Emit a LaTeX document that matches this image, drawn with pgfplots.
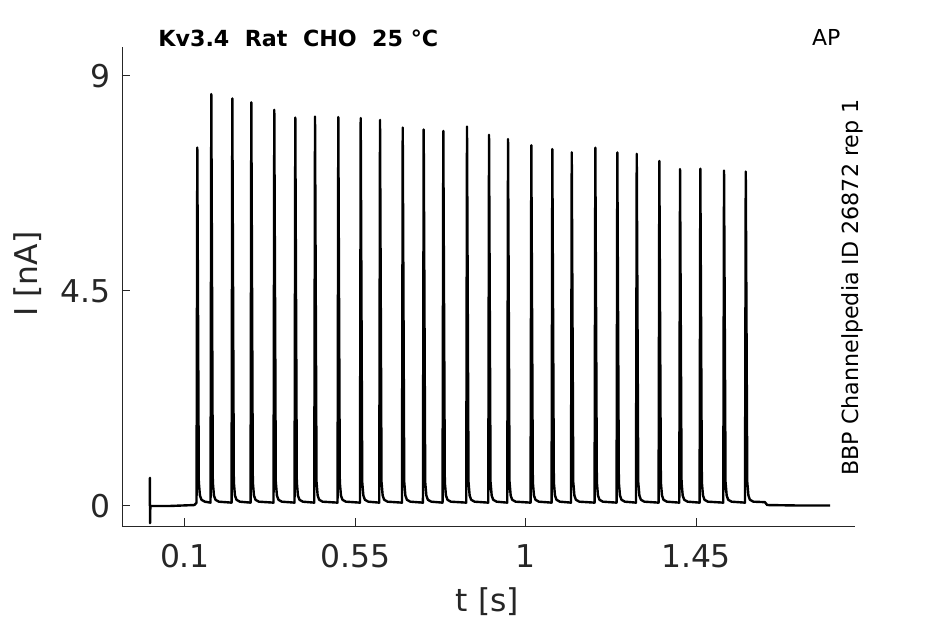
\documentclass[border=0pt]{standalone}
\usepackage{fontspec}
\setmainfont{DejaVu Sans}
\usepackage{pgfplots}
\pgfplotsset{compat=1.18}
\definecolor{axgray}{RGB}{38,38,38}
\begin{document}
\begin{tikzpicture}
\useasboundingbox (0,0) rectangle (472.5bp,312bp);
\begin{axis}[
  at={(61bp,49bp)}, anchor=south west,
  width=366.5bp, height=239.5bp, scale only axis,
  xmin=-0.0664, xmax=1.870, ymin=-0.419, ymax=9.607,
  axis x line*=bottom, axis y line*=left,
  axis line style={axgray, line width=0.5bp, -},
  xtick={0.1,0.55,1,1.45}, xticklabels={0.1,0.55,1,1.45},
  ytick={0,4.5,9}, yticklabels={0,4.5,9},
  tick align=inside, major tick length=4bp,
  tick style={axgray, line width=0.5bp},
  ticklabel style={font=\fontsize{15.7bp}{18bp}\selectfont, text=axgray},
  xticklabel style={yshift=-5.8bp},
  yticklabel style={xshift=-2.3bp},
]
\addplot[black, line width=1.2bp, line join=round] coordinates {
(0.0070,0.00)(0.0074,0.59)(0.0078,-0.36)(0.0085,0.00)(0.0600,0.00)(0.1250,0.02)
(0.1305,0.07)(0.1325,7.50)(0.1365,0.5)(0.1395,0.22)(0.1435,0.13)(0.1525,0.09)
(0.1675,0.07)(0.1695,8.62)(0.1735,0.5)(0.1765,0.22)(0.1805,0.13)(0.1895,0.09)
(0.2230,0.07)(0.2250,8.53)(0.2290,0.5)(0.2320,0.22)(0.2360,0.13)(0.2450,0.09)
(0.2732,0.07)(0.2752,8.45)(0.2792,0.5)(0.2822,0.22)(0.2862,0.13)(0.2952,0.09)
(0.3339,0.07)(0.3359,8.29)(0.3399,0.5)(0.3429,0.22)(0.3469,0.13)(0.3559,0.09)
(0.3894,0.07)(0.3914,8.13)(0.3954,0.5)(0.3984,0.22)(0.4024,0.13)(0.4114,0.09)
(0.4415,0.07)(0.4435,8.15)(0.4475,0.5)(0.4505,0.22)(0.4545,0.13)(0.4635,0.09)
(0.5030,0.07)(0.5050,8.14)(0.5090,0.5)(0.5120,0.22)(0.5160,0.13)(0.5250,0.09)
(0.5622,0.07)(0.5642,8.12)(0.5682,0.5)(0.5712,0.22)(0.5752,0.13)(0.5842,0.09)
(0.6132,0.07)(0.6152,8.08)(0.6192,0.5)(0.6222,0.22)(0.6262,0.13)(0.6352,0.09)
(0.6732,0.07)(0.6752,7.92)(0.6792,0.5)(0.6822,0.22)(0.6862,0.13)(0.6952,0.09)
(0.7286,0.07)(0.7306,7.88)(0.7346,0.5)(0.7376,0.22)(0.7416,0.13)(0.7506,0.09)
(0.7804,0.07)(0.7824,7.85)(0.7864,0.5)(0.7894,0.22)(0.7934,0.13)(0.8024,0.09)
(0.8430,0.07)(0.8450,7.94)(0.8490,0.5)(0.8520,0.22)(0.8560,0.13)(0.8650,0.09)
(0.9012,0.07)(0.9032,7.77)(0.9072,0.5)(0.9102,0.22)(0.9142,0.13)(0.9232,0.09)
(0.9514,0.07)(0.9534,7.68)(0.9574,0.5)(0.9604,0.22)(0.9644,0.13)(0.9734,0.09)
(1.0129,0.07)(1.0149,7.55)(1.0189,0.5)(1.0219,0.22)(1.0259,0.13)(1.0349,0.09)
(1.0684,0.07)(1.0704,7.47)(1.0744,0.5)(1.0774,0.22)(1.0814,0.13)(1.0904,0.09)
(1.1197,0.07)(1.1217,7.40)(1.1257,0.5)(1.1287,0.22)(1.1327,0.13)(1.1417,0.09)
(1.1820,0.07)(1.1840,7.50)(1.1880,0.5)(1.1910,0.22)(1.1950,0.13)(1.2040,0.09)
(1.2401,0.07)(1.2421,7.40)(1.2461,0.5)(1.2491,0.22)(1.2531,0.13)(1.2621,0.09)
(1.2914,0.07)(1.2934,7.37)(1.2974,0.5)(1.3004,0.22)(1.3044,0.13)(1.3134,0.09)
(1.3511,0.07)(1.3531,7.22)(1.3571,0.5)(1.3601,0.22)(1.3641,0.13)(1.3731,0.09)
(1.4058,0.07)(1.4078,7.05)(1.4118,0.5)(1.4148,0.22)(1.4188,0.13)(1.4278,0.09)
(1.4594,0.07)(1.4614,7.06)(1.4654,0.5)(1.4684,0.22)(1.4724,0.13)(1.4814,0.09)
(1.5220,0.07)(1.5240,7.02)(1.5280,0.5)(1.5310,0.22)(1.5350,0.13)(1.5440,0.09)
(1.5794,0.07)(1.5814,7.00)(1.5854,0.5)(1.5884,0.22)(1.5924,0.13)(1.6014,0.09)
(1.6320,0.08)(1.6380,0.02)(1.7200,0.01)(1.8040,0.01)
};
\end{axis}
\node[anchor=base, inner sep=0, text=axgray, font=\fontsize{15.7bp}{18bp}\selectfont] at (243.75bp,6.15bp) {t [s]};
\node[anchor=base, rotate=90, inner sep=0, text=axgray, font=\fontsize{15.7bp}{18bp}\selectfont] at (18.5bp,175bp) {I [nA]};
\node[anchor=base west, inner sep=0, font=\bfseries\fontsize{11.1bp}{13bp}\selectfont] at (79bp,288.5bp) {Kv3.4\ \ Rat\ \ CHO\ \ 25 °C};
\node[anchor=base west, inner sep=0, font=\fontsize{11bp}{13bp}\selectfont] at (405.8bp,289bp) {AP};
\node[anchor=base, rotate=90, inner sep=0, font=\fontsize{11.1bp}{13bp}\selectfont] at (429bp,168.25bp) {BBP Channelpedia ID 26872 rep 1};
\end{tikzpicture}
\end{document}
